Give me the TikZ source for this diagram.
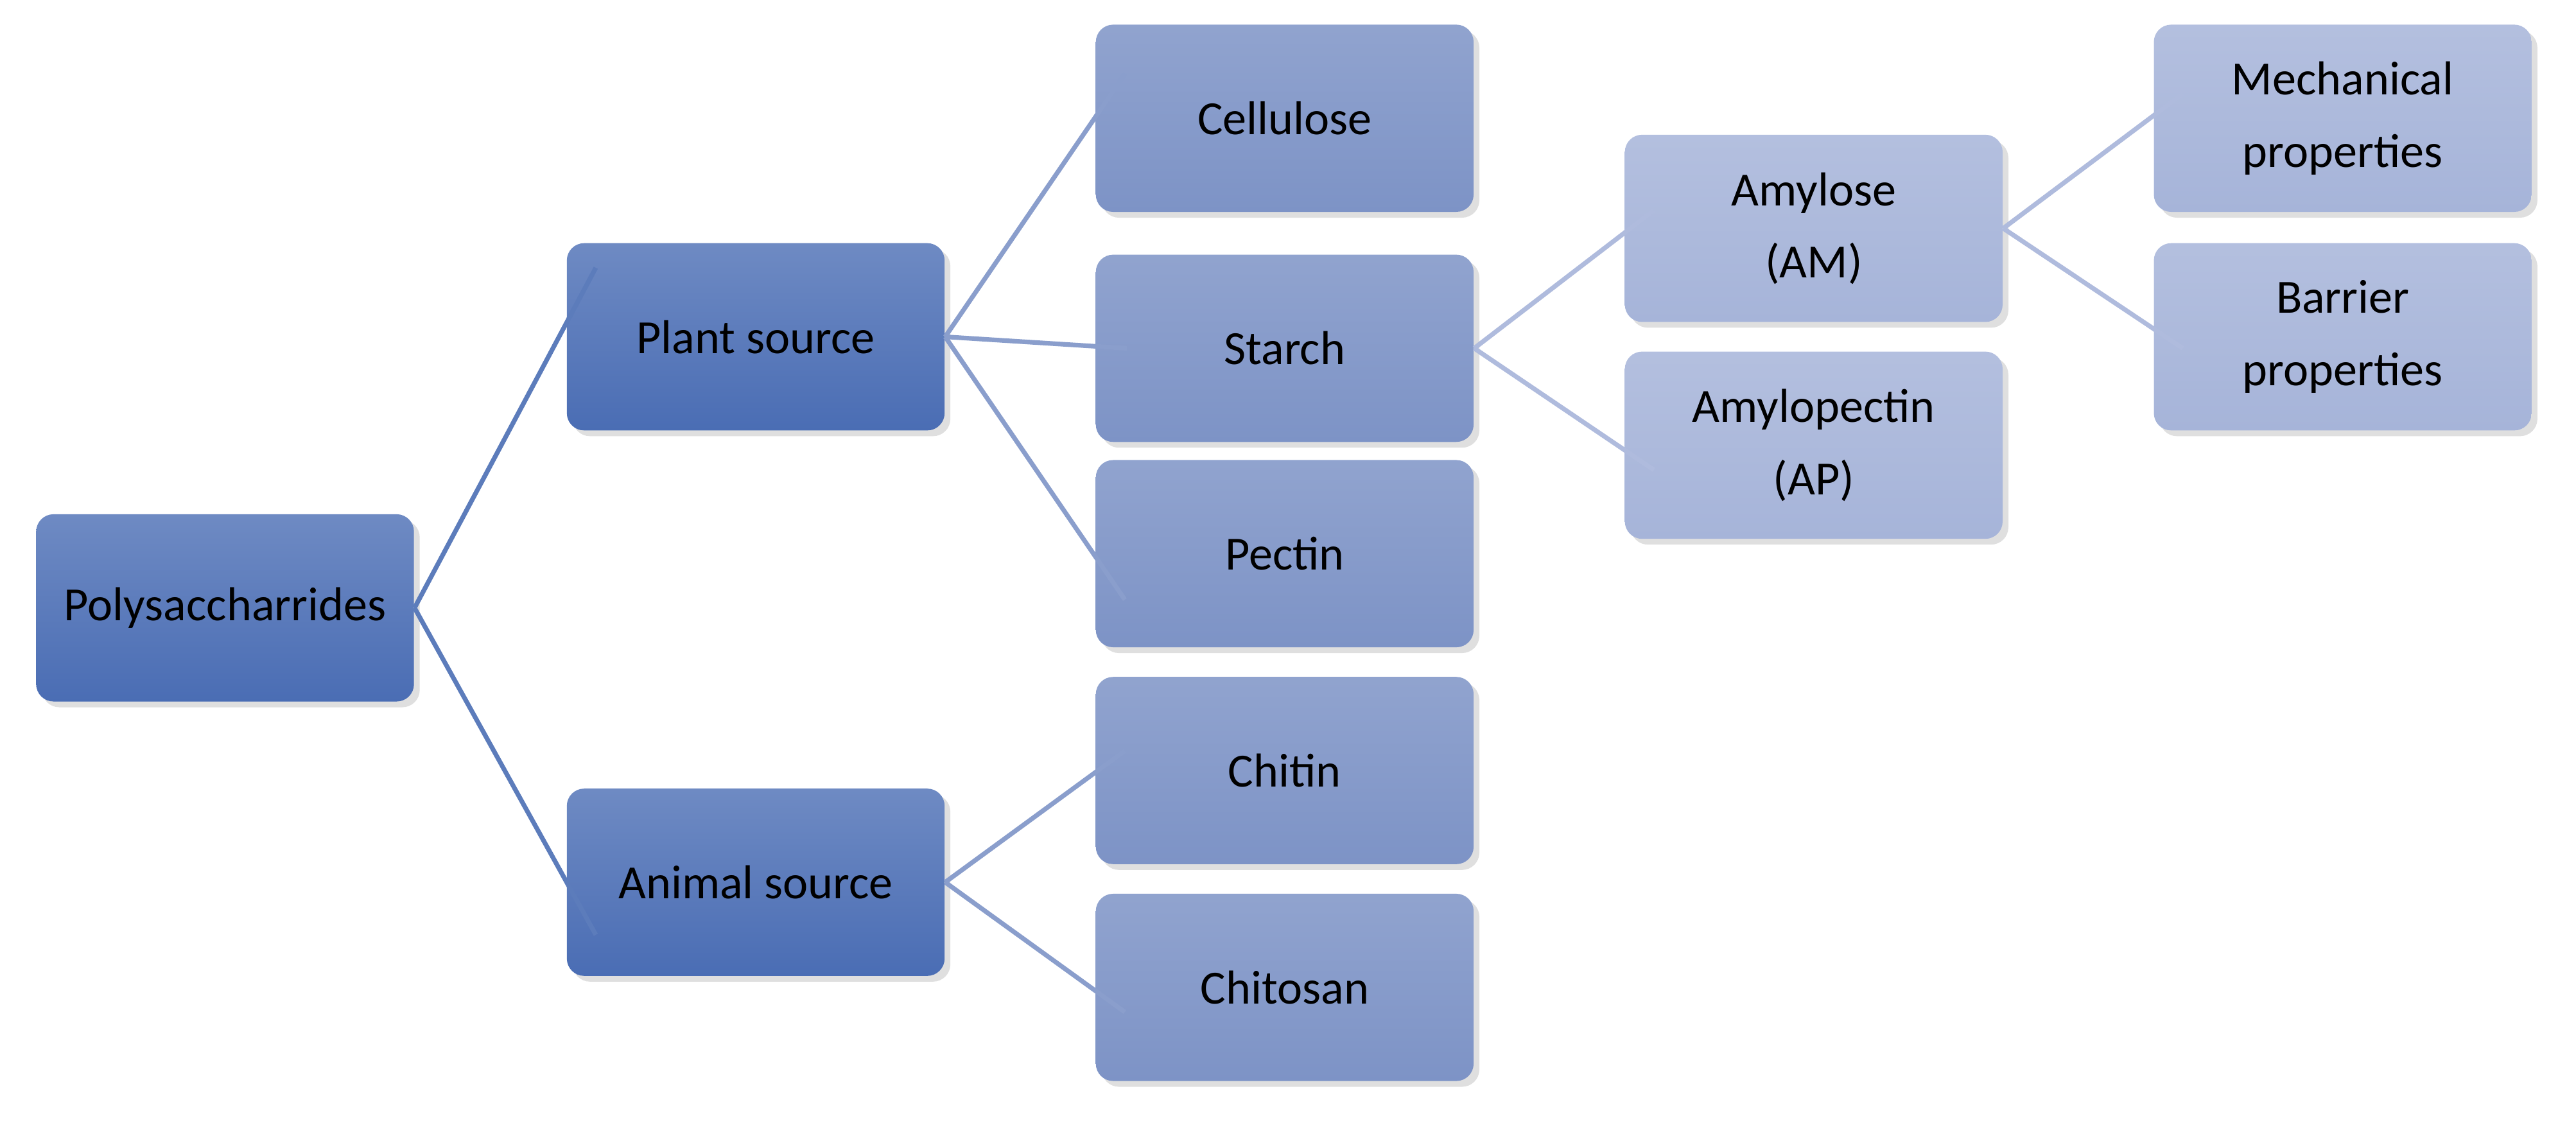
\documentclass[tikz,border=0pt]{standalone}
\usepackage{fontspec}
\setmainfont{Carlito}
\usetikzlibrary{shadows}
\definecolor{deep}{HTML}{4A6DB4}
\definecolor{mid}{HTML}{7D93C6}
\definecolor{pale}{HTML}{A6B4D9}
\tikzset{
  box/.style={rounded corners=6pt,minimum width=4.6cm,minimum height=2.28cm,
    align=center,font=\fontsize{16.5}{25}\selectfont,
    drop shadow={opacity=.25,shadow xshift=2pt,shadow yshift=-2pt}},
  lvla/.style={box,top color=deep!80,bottom color=deep},
  lvlb/.style={box,top color=mid!85,bottom color=mid},
  lvlc/.style={box,top color=pale!85,bottom color=pale},
  link/.style={line width=1.6pt},
}
\begin{document}
\begin{tikzpicture}[x=0.02cm,y=-0.02cm]
\useasboundingbox (0,0) rectangle (1568,689);
% tree
\node (poly)  [lvla] at (137,370) {Polysaccharrides};
\node (plant) [lvla] at (460,205) {Plant source};
\node (anim)  [lvla] at (460,537) {Animal source};
\node (cell)  [lvlb] at (782,72)  {Cellulose};
\node (star)  [lvlb] at (782,212) {Starch};
\node (pect)  [lvlb] at (782,337) {Pectin};
\node (chit)  [lvlb] at (782,469) {Chitin};
\node (chts)  [lvlb] at (782,601) {Chitosan};
\node (am)    [lvlc] at (1104,139) {Amylose\\(AM)};
\node (ap)    [lvlc] at (1104,271) {Amylopectin\\(AP)};
\node (mech)  [lvlc] at (1426,72)  {Mechanical\\properties};
\node (barr)  [lvlc] at (1426,205) {Barrier\\properties};
% links
\draw[link,deep!90] (poly.east) -- ([shift={(18,-42)}]plant.west)
    (poly.east) -- ([shift={(18,32)}]anim.west);
\draw[link,mid!90] (plant.east) -- ([shift={(18,-27)}]cell.west)
    (plant.east) -- (star.west -| 686,212)
    (plant.east) -- ([shift={(18,28)}]pect.west);
\draw[link,mid!90] (anim.east) -- ([shift={(18,-12)}]chit.west)
    (anim.east) -- ([shift={(18,15)}]chts.west);
\draw[link,pale!90] (star.east) -- ([shift={(18,-11)}]am.west)
    (star.east) -- ([shift={(18,15)}]ap.west);
\draw[link,pale!90] (am.east) -- ([shift={(18,-15)}]mech.west)
    (am.east) -- ([shift={(18,7)}]barr.west);
\end{tikzpicture}
\end{document}
